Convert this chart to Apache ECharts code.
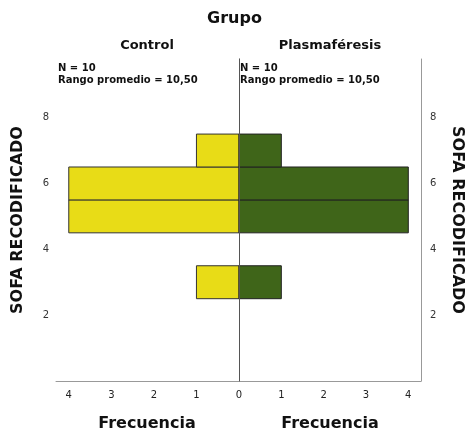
<!DOCTYPE html>
<html><head><meta charset="utf-8">
<script src="https://cdn.jsdelivr.net/npm/echarts@6/dist/echarts.min.js"></script>
<style>html,body{margin:0;padding:0;background:#fff}#c{width:469px;height:437px}</style>
</head><body><div id="c"></div>
<script>
const binCenters = [3, 5, 6, 7];
const controlFreq = [1, 4, 4, 1];
const plasmaFreq = [1, 4, 4, 1];
const groups = ['Control', 'Plasmaféresis'];
const statsText = ['N = 10', 'Rango promedio = 10,50'];
const yTicks = [2, 4, 6, 8];

const FONT = '"DejaVu Sans", sans-serif';
const chart = echarts.init(document.getElementById('c'), null, {renderer: 'canvas'});

function renderBar(params, api) {
  const c = api.value(1);
  const a = api.coord([0, c - 0.5]);
  const b = api.coord([api.value(0), c + 0.5]);
  return {
    type: 'rect',
    shape: {x: Math.min(a[0], b[0]), y: Math.min(a[1], b[1]), width: Math.abs(b[0] - a[0]), height: Math.abs(b[1] - a[1])},
    style: api.style()
  };
}

const yLabel = {show: true, color: '#333', fontSize: 10, fontFamily: FONT, formatter: v => yTicks.includes(v) ? String(v) : ''};
const xLabel = {color: '#222', fontSize: 10, fontFamily: FONT, margin: 9};
const YMAX = 9.78;

chart.setOption({
  animation: false,
  title: [
    {text: 'Grupo', left: 'center', top: 6, textStyle: {fontSize: 16, fontWeight: 'bold', fontFamily: FONT, color: '#111'}},
    {text: groups[0], left: 142, top: 34, textAlign: 'center', textStyle: {fontSize: 13, fontWeight: 'bold', fontFamily: FONT, color: '#111'}},
    {text: groups[1], left: 325, top: 34, textAlign: 'center', textStyle: {fontSize: 13, fontWeight: 'bold', fontFamily: FONT, color: '#111'}},
    {text: statsText.join('\n'), left: 53, top: 57, textStyle: {fontSize: 10, fontWeight: 'bold', fontFamily: FONT, color: '#111', lineHeight: 12}},
    {text: statsText.join('\n'), left: 235, top: 57, textStyle: {fontSize: 10, fontWeight: 'bold', fontFamily: FONT, color: '#111', lineHeight: 12}},
    {text: 'Frecuencia', left: 142, top: 411, textAlign: 'center', textStyle: {fontSize: 16, fontWeight: 'bold', fontFamily: FONT, color: '#111'}},
    {text: 'Frecuencia', left: 325, top: 411, textAlign: 'center', textStyle: {fontSize: 16, fontWeight: 'bold', fontFamily: FONT, color: '#111'}}
  ],
  grid: [
    {left: 56, top: 59, width: 183, height: 322},
    {left: 239, top: 59, width: 182, height: 322}
  ],
  xAxis: [
    {gridIndex: 0, type: 'value', min: 0, max: 4.3, interval: 1, inverse: true,
     axisLine: {show: true, lineStyle: {color: '#999', width: 1}}, axisTick: {show: false}, splitLine: {show: false},
     axisLabel: Object.assign({formatter: v => v <= 4 ? String(v) : ''}, xLabel)},
    {gridIndex: 1, type: 'value', min: 0, max: 4.3, interval: 1,
     axisLine: {show: true, lineStyle: {color: '#999', width: 1}}, axisTick: {show: false}, splitLine: {show: false},
     axisLabel: Object.assign({formatter: v => (v > 0 && v <= 4) ? String(v) : ''}, xLabel)}
  ],
  yAxis: [
    {gridIndex: 0, type: 'value', min: 0, max: YMAX, interval: 1, position: 'left',
     axisLine: {show: true, lineStyle: {color: '#999', width: 1}}, axisTick: {show: false}, splitLine: {show: false},
     axisLabel: Object.assign({margin: 7}, yLabel),
     name: 'SOFA RECODIFICADO', nameLocation: 'middle', nameRotate: 90, nameGap: 30,
     nameTextStyle: {fontSize: 16, fontWeight: 'bold', fontFamily: FONT, color: '#111'}},
    {gridIndex: 1, type: 'value', min: 0, max: YMAX, interval: 1, position: 'left',
     axisLine: {show: true, lineStyle: {color: '#555', width: 1}}, axisTick: {show: false}, splitLine: {show: false},
     axisLabel: {show: false}, z: 5},
    {gridIndex: 1, type: 'value', min: 0, max: YMAX, interval: 1, position: 'right',
     axisLine: {show: true, lineStyle: {color: '#999', width: 1}}, axisTick: {show: false}, splitLine: {show: false},
     axisLabel: Object.assign({margin: 9}, yLabel),
     name: 'SOFA RECODIFICADO', nameLocation: 'middle', nameRotate: -90, nameGap: 28,
     nameTextStyle: {fontSize: 16, fontWeight: 'bold', fontFamily: FONT, color: '#111'}}
  ],
  series: [
    {type: 'custom', xAxisIndex: 0, yAxisIndex: 0, renderItem: renderBar, encode: {x: 0, y: 1},
     itemStyle: {color: '#E8DC17', borderColor: '#333', borderWidth: 1},
     data: binCenters.map((c, i) => [controlFreq[i], c])},
    {type: 'custom', xAxisIndex: 1, yAxisIndex: 1, renderItem: renderBar, encode: {x: 0, y: 1},
     itemStyle: {color: '#3F6519', borderColor: '#222', borderWidth: 1},
     data: binCenters.map((c, i) => [plasmaFreq[i], c])}
  ]
});
</script></body></html>
